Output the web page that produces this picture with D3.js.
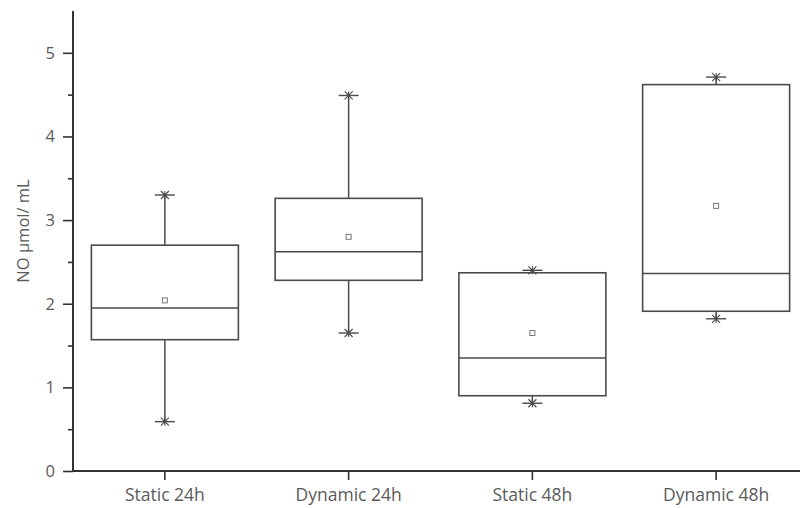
<!DOCTYPE html>
<html>
<head>
<meta charset="utf-8">
<script src="https://cdn.jsdelivr.net/npm/d3@7"></script>
<style>
    body { margin: 0; background: #fff; }
    svg text { font-family: "Open Sans", "DejaVu Sans", sans-serif; fill: #5a5a5a; }
</style>
</head>
<body>
<div id="chart"></div>
<script>
// 各组数据
const groups = ['Static 24h', 'Dynamic 24h', 'Static 48h', 'Dynamic 48h'];
const whiskerLow = [0.59, 1.65, 0.81, 1.82];
const q1 = [1.57, 2.28, 0.90, 1.91];
const median = [1.95, 2.62, 1.35, 2.36];
const q3 = [2.70, 3.26, 2.37, 4.62];
const whiskerHigh = [3.30, 4.49, 2.40, 4.71];
const means = [2.04, 2.80, 1.65, 3.17];
const yTicks = [0, 1, 2, 3, 4, 5];
const yMinorTicks = [0.5, 1.5, 2.5, 3.5, 4.5];

const width = 800;
const height = 508;
const margin = { left: 73, right: -8, top: 11, bottom: 37 };

const svg = d3.select('#chart')
    .append('svg')
    .attr('width', width)
    .attr('height', height);

const x = d3.scaleBand()
    .domain(groups)
    .range([margin.left, width - margin.right])
    .paddingInner(0.2)
    .paddingOuter(0.1);

const y = d3.scaleLinear()
    .domain([0, 5.5])
    .range([height - margin.bottom, margin.top]);

const stroke = '#4a4a4a';

// 盒须图
const boxes = groups.map((g, i) => ({
    g, lo: whiskerLow[i], q1: q1[i], med: median[i], q3: q3[i], hi: whiskerHigh[i], mean: means[i]
}));

const box = svg.append('g').selectAll('g')
    .data(boxes)
    .join('g');

// 须线
box.append('line')
    .attr('x1', d => x(d.g) + x.bandwidth() / 2)
    .attr('x2', d => x(d.g) + x.bandwidth() / 2)
    .attr('y1', d => y(d.hi))
    .attr('y2', d => y(d.q3))
    .attr('stroke', stroke).attr('stroke-width', 1.5);
box.append('line')
    .attr('x1', d => x(d.g) + x.bandwidth() / 2)
    .attr('x2', d => x(d.g) + x.bandwidth() / 2)
    .attr('y1', d => y(d.q1))
    .attr('y2', d => y(d.lo))
    .attr('stroke', stroke).attr('stroke-width', 1.5);

// 盒体
box.append('rect')
    .attr('x', d => x(d.g))
    .attr('width', x.bandwidth())
    .attr('y', d => y(d.q3))
    .attr('height', d => y(d.q1) - y(d.q3))
    .attr('fill', 'none')
    .attr('stroke', stroke).attr('stroke-width', 1.6);

// 中位线
box.append('line')
    .attr('x1', d => x(d.g))
    .attr('x2', d => x(d.g) + x.bandwidth())
    .attr('y1', d => y(d.med))
    .attr('y2', d => y(d.med))
    .attr('stroke', stroke).attr('stroke-width', 1.5);

// 须端标记（横线加星号）
['lo', 'hi'].forEach(k => {
    const cap = box.append('g')
        .attr('transform', d => `translate(${x(d.g) + x.bandwidth() / 2},${y(d[k])})`);
    cap.append('line').attr('x1', -10).attr('x2', 10).attr('stroke', stroke).attr('stroke-width', 1.4);
    cap.append('path')
        .attr('d', 'M-4,-4L4,4M-4,4L4,-4M0,-4L0,4')
        .attr('stroke', stroke).attr('stroke-width', 1.1);
});

// 均值小方块
box.append('rect')
    .attr('x', d => x(d.g) + x.bandwidth() / 2 - 2.5)
    .attr('y', d => y(d.mean) - 2.5)
    .attr('width', 5).attr('height', 5)
    .attr('fill', '#fff')
    .attr('stroke', '#777').attr('stroke-width', 1);

// 坐标轴
const yAxis = svg.append('g')
    .attr('transform', `translate(${margin.left},0)`)
    .call(d3.axisLeft(y).tickValues(yTicks).tickFormat(d3.format('d')).tickSize(10).tickPadding(8));
svg.append('g')
    .attr('transform', `translate(${margin.left},0)`)
    .call(d3.axisLeft(y).tickValues(yMinorTicks).tickFormat('').tickSize(5))
    .call(g => g.select('.domain').remove())
    .call(g => g.selectAll('line').attr('stroke', '#333').attr('stroke-width', 1.6));

yAxis.select('.domain').attr('stroke', '#333').attr('stroke-width', 2)
    .attr('d', `M0,${y(5.5)}V${y(0)}`);
yAxis.selectAll('.tick line').attr('stroke', '#333').attr('stroke-width', 1.6);
yAxis.selectAll('.tick text').style('font-size', '16.5px').attr('fill', '#5a5a5a');

const xAxis = svg.append('g')
    .attr('transform', `translate(0,${y(0)})`)
    .call(d3.axisBottom(x).tickSize(9).tickPadding(9));
xAxis.select('.domain').attr('stroke', '#333').attr('stroke-width', 2)
    .attr('d', `M${margin.left},0H${width}`);
xAxis.selectAll('.tick line').attr('stroke', '#333').attr('stroke-width', 1.6);
xAxis.selectAll('.tick text').style('font-size', '17.5px').attr('fill', '#5a5a5a');

// Y 轴标题
svg.append('text')
    .attr('transform', `translate(29,${y(2.87)}) rotate(-90)`)
    .attr('text-anchor', 'middle')
    .style('font-size', '16.5px')
    .text('NO µmol/ mL');
</script>
</body>
</html>
